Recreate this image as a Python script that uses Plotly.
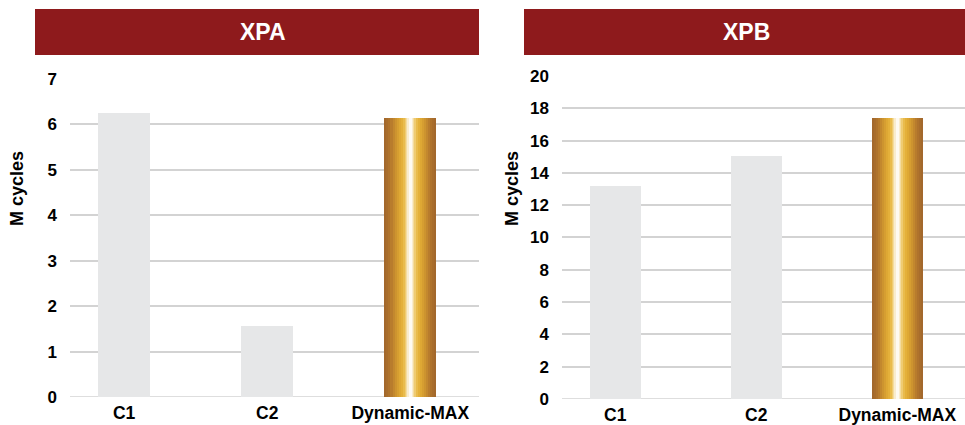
import plotly.graph_objects as go

categories = ["C1", "C2", "Dynamic-MAX"]
xpa_values = [6.26, 1.56, 6.15]
xpb_values = [13.2, 15.05, 17.4]
panel_titles = ["XPA", "XPB"]
y_title = "M cycles"
xpa_ticks = [0, 1, 2, 3, 4, 5, 6, 7]
xpb_ticks = [0, 2, 4, 6, 8, 10, 12, 14, 16, 18, 20]

W, H = 965, 425
FONT = "Liberation Sans, Arial, Helvetica, sans-serif"
GRAY = "#e6e7e8"
RED = "#8e1a1c"
BAR_W = 0.365
# gradient layers: (relative width, colour) outer -> inner
GOLD_LAYERS = [
    (1.00, "#a3682c"),
    (0.92, "#a86d2c"),
    (0.84, "#af732c"),
    (0.76, "#b87c2d"),
    (0.68, "#c3882e"),
    (0.60, "#cd942f"),
    (0.52, "#d69e31"),
    (0.44, "#dea834"),
    (0.36, "#e4b03a"),
    (0.29, "#e9bb4c"),
    (0.22, "#efcb72"),
    (0.16, "#f4dc9f"),
    (0.11, "#f9ecce"),
    (0.06, "#fefaf2"),
]

fig = go.Figure()

def px_x(p):
    return p / W

def px_y(p):
    return 1 - p / H

panels = [
    dict(vals=xpa_values, ticks=xpa_ticks, xa="x", ya="y", xd=[70, 479], yd=[397, 79],
         band=[35, 479], title_x=263, ytitle_x=17),
    dict(vals=xpb_values, ticks=xpb_ticks, xa="x2", ya="y2", xd=[562, 965], yd=[399, 76],
         band=[524, 965], title_x=746, ytitle_x=512),
]

for i, p in enumerate(panels):
    fig.add_trace(go.Bar(x=categories[:2], y=p["vals"][:2], width=BAR_W, marker_color=GRAY,
                         marker_line_width=0, xaxis=p["xa"], yaxis=p["ya"],
                         showlegend=False, hoverinfo="x+y"))
    for frac, col in GOLD_LAYERS:
        fig.add_trace(go.Bar(x=[categories[2]], y=[p["vals"][2]], width=BAR_W * frac,
                             marker_color=col, marker_line_width=0,
                             xaxis=p["xa"], yaxis=p["ya"], showlegend=False,
                             hoverinfo="x+y"))
    # header band
    fig.add_shape(type="rect", xref="paper", yref="paper",
                  x0=px_x(p["band"][0]), x1=px_x(p["band"][1]),
                  y0=px_y(55), y1=px_y(9), fillcolor=RED, line_width=0, layer="below")
    fig.add_annotation(text=panel_titles[i], xref="paper", yref="paper",
                       x=px_x(p["title_x"]), y=px_y(32), showarrow=False,
                       xanchor="center", yanchor="middle",
                       font=dict(family=FONT, size=23, color="white", weight="bold"))
    fig.add_annotation(text=y_title, xref="paper", yref="paper",
                       x=px_x(p["ytitle_x"]), y=px_y(189), showarrow=False, textangle=-90,
                       xanchor="center", yanchor="middle",
                       font=dict(family=FONT, size=18, color="black", weight="bold"))

axis_common = dict(showline=False, zeroline=False, ticks="")
xa = dict(type="category", range=[-0.378, 2.48], showgrid=False, **axis_common,
          tickfont=dict(family=FONT, size=17.5, color="black", weight="bold"),
          ticklabelstandoff=3)
ya_common = dict(showgrid=True, gridcolor="#d3d3d3", gridwidth=1.6, **axis_common,
                 tickfont=dict(family=FONT, size=17, color="black", weight="bold"),
                 ticklabelstandoff=12)

p0, p1 = panels
fig.update_layout(
    width=W, height=H, margin=dict(l=0, r=0, t=0, b=0, autoexpand=False),
    paper_bgcolor="white", plot_bgcolor="white", barmode="overlay", bargap=0,
    xaxis=dict(domain=[px_x(p0["xd"][0]), px_x(p0["xd"][1])], anchor="y", **xa),
    xaxis2=dict(domain=[px_x(p1["xd"][0]), px_x(p1["xd"][1])], anchor="y2", **xa),
    yaxis=dict(domain=[px_y(p0["yd"][0]), px_y(p0["yd"][1] - 1)], anchor="x",
               range=[0, 7.02], tickvals=xpa_ticks, **ya_common),
    yaxis2=dict(domain=[px_y(p1["yd"][0]), px_y(p1["yd"][1] - 1)], anchor="x2",
                range=[0, 20.06], tickvals=xpb_ticks, **ya_common),
)

fig.add_shape(type="line", xref="x domain", yref="y", x0=0, x1=1, y0=0, y1=0,
              line=dict(color="#d3d3d3", width=1.6), layer="below")
fig.add_shape(type="line", xref="x2 domain", yref="y2", x0=0, x1=1, y0=0, y1=0,
              line=dict(color="#d3d3d3", width=1.6), layer="below")

fig.write_html(
    "out.html",
    config={"displayModeBar": False},
    post_script="document.body.style.margin='0';document.body.style.overflow='hidden';",
)
